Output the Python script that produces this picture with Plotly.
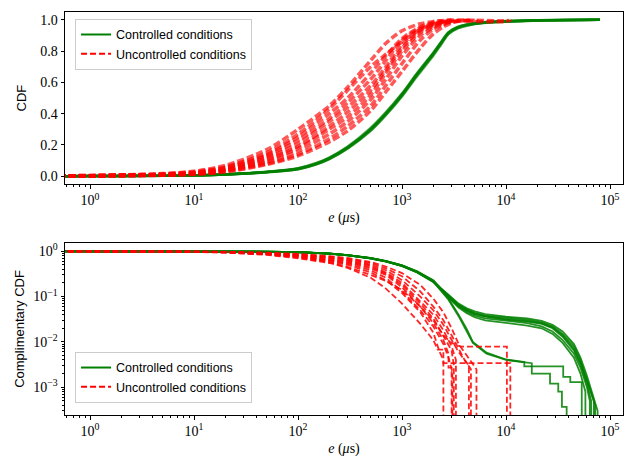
import plotly.graph_objects as go
from plotly.subplots import make_subplots

# ---------------- data ----------------
# Controlled conditions: CDF body on a shared x grid (microseconds)
green_body_x = [0.5, 1, 2, 5, 10, 20, 50, 100, 150, 200, 300, 500, 700, 1000, 1400, 2000]
green_body_cdf = [
    [0.0005, 0.001, 0.002, 0.004, 0.007, 0.013, 0.029, 0.052, 0.085, 0.120, 0.190, 0.310, 0.410, 0.530, 0.660, 0.790],
    [0.0005, 0.001, 0.002, 0.004, 0.006, 0.012, 0.028, 0.050, 0.083, 0.118, 0.187, 0.305, 0.405, 0.525, 0.655, 0.785],
    [0.0004, 0.001, 0.002, 0.004, 0.006, 0.012, 0.027, 0.048, 0.080, 0.115, 0.183, 0.300, 0.400, 0.520, 0.650, 0.780],
    [0.0004, 0.001, 0.002, 0.003, 0.006, 0.011, 0.026, 0.046, 0.078, 0.112, 0.180, 0.295, 0.395, 0.515, 0.645, 0.775],
    [0.0004, 0.001, 0.002, 0.003, 0.005, 0.011, 0.025, 0.045, 0.076, 0.110, 0.177, 0.290, 0.390, 0.510, 0.640, 0.770],
    [0.0005, 0.001, 0.002, 0.004, 0.006, 0.012, 0.028, 0.049, 0.081, 0.117, 0.186, 0.302, 0.402, 0.522, 0.652, 0.782],
    [0.0005, 0.001, 0.002, 0.004, 0.006, 0.012, 0.027, 0.047, 0.079, 0.113, 0.182, 0.300, 0.400, 0.525, 0.660, 0.790],
    [0.0004, 0.001, 0.002, 0.003, 0.005, 0.011, 0.026, 0.045, 0.077, 0.110, 0.178, 0.292, 0.392, 0.515, 0.650, 0.785],
]
# Controlled conditions: end of the CDF as drawn in the top panel
green_top_tail_x = [2400, 2800, 3400, 4200, 6000, 18000, 80000]
green_top_tail_cdf = [
    [0.862, 0.920, 0.952, 0.969, 0.983, 0.996, 1.0],
    [0.858, 0.917, 0.950, 0.968, 0.982, 0.995, 1.0],
    [0.854, 0.914, 0.948, 0.966, 0.981, 0.995, 1.0],
    [0.850, 0.911, 0.946, 0.964, 0.980, 0.994, 1.0],
    [0.846, 0.908, 0.944, 0.962, 0.979, 0.994, 1.0],
    [0.856, 0.916, 0.949, 0.967, 0.982, 0.995, 1.0],
    [0.862, 0.921, 0.954, 0.971, 0.985, 0.997, 1.0],
    [0.858, 0.918, 0.952, 0.970, 0.984, 0.997, 1.0],
]
# Controlled conditions: tails as drawn in the bottom panel (complementary CDF)
green_tail_x = [
    [2800, 3500, 4200, 5000, 6300, 10000, 16000, 22000, 28000, 35000, 45000, 52000, 60000, 68000, 76000, 76000],
    [2800, 3500, 4200, 5000, 6300, 10000, 16000, 22000, 28000, 35000, 45000, 52000, 60000, 66000, 72000, 72000],
    [2800, 3500, 4200, 5000, 6300, 10000, 16000, 22000, 28000, 35000, 45000, 52000, 60000, 66000, 66000],
    [2800, 3500, 4200, 5000, 6300, 10000, 16000, 22000, 28000, 35000, 45000, 52000, 60000, 64000, 64000],
    [2800, 3500, 4200, 5000, 6300, 10000, 16000, 22000, 28000, 35000, 45000, 52000, 58000, 58000],
    [2800, 3500, 4200, 5000, 6300, 10000, 16000, 22000, 28000, 35000, 45000, 52000, 60000, 70000, 70000],
    [2800, 3500, 4200, 4800, 6500, 10000, 15000, 15000, 35500, 35500, 41500, 41500, 53500, 53500],
    [2800, 3500, 4200, 4800, 6500, 10000, 17700, 17700, 26500, 26500, 31800, 31800, 34500, 34500, 38300, 38300],
]
green_tail_ccdf = [
    [0.110, 0.070, 0.055, 0.047, 0.041, 0.036, 0.033, 0.029, 0.024, 0.017, 0.009, 0.0045, 0.0018, 0.0007, 0.0003, 0],
    [0.105, 0.066, 0.052, 0.044, 0.038, 0.034, 0.031, 0.027, 0.022, 0.015, 0.008, 0.004, 0.0015, 0.0008, 0.0004, 0],
    [0.100, 0.063, 0.049, 0.041, 0.036, 0.031, 0.028, 0.025, 0.020, 0.013, 0.0065, 0.0032, 0.0012, 0.0005, 0],
    [0.100, 0.060, 0.046, 0.038, 0.033, 0.029, 0.026, 0.022, 0.017, 0.011, 0.0055, 0.0027, 0.001, 0.0005, 0],
    [0.095, 0.057, 0.043, 0.035, 0.030, 0.026, 0.023, 0.020, 0.015, 0.0095, 0.0045, 0.002, 0.0008, 0],
    [0.102, 0.064, 0.050, 0.042, 0.037, 0.032, 0.029, 0.026, 0.021, 0.014, 0.007, 0.0035, 0.0014, 0.0005, 0],
    [0.090, 0.040, 0.019, 0.010, 0.0058, 0.0041, 0.0036, 0.0029, 0.0029, 0.0017, 0.0017, 0.0013, 0.0013, 0],
    [0.085, 0.037, 0.017, 0.0095, 0.0055, 0.004, 0.0034, 0.002, 0.002, 0.0012, 0.0012, 0.0008, 0.0008, 0.00037, 0.00037, 0],
]

# Uncontrolled conditions: CDF body on a shared x grid (microseconds)
red_body_x = [0.5, 1, 2, 5, 10, 20, 50, 100, 200, 300, 500, 700, 1000, 1500]
red_body_cdf = [
    [0.003, 0.005, 0.009, 0.017, 0.032, 0.070, 0.170, 0.300, 0.450, 0.570, 0.740, 0.850, 0.930, 0.975],
    [0.003, 0.005, 0.008, 0.015, 0.028, 0.060, 0.150, 0.270, 0.430, 0.550, 0.700, 0.780, 0.860, 0.940],
    [0.002, 0.004, 0.007, 0.013, 0.025, 0.055, 0.140, 0.250, 0.400, 0.500, 0.660, 0.770, 0.880, 0.955],
    [0.002, 0.004, 0.007, 0.012, 0.022, 0.050, 0.130, 0.230, 0.370, 0.470, 0.620, 0.740, 0.870, 0.950],
    [0.002, 0.003, 0.006, 0.011, 0.020, 0.045, 0.120, 0.210, 0.350, 0.440, 0.580, 0.700, 0.840, 0.940],
    [0.002, 0.003, 0.005, 0.010, 0.018, 0.040, 0.110, 0.190, 0.320, 0.410, 0.550, 0.680, 0.820, 0.930],
    [0.001, 0.003, 0.005, 0.009, 0.017, 0.038, 0.100, 0.180, 0.300, 0.380, 0.520, 0.660, 0.800, 0.920],
    [0.001, 0.002, 0.004, 0.008, 0.015, 0.035, 0.090, 0.160, 0.270, 0.350, 0.490, 0.620, 0.770, 0.900],
    [0.001, 0.002, 0.004, 0.007, 0.013, 0.030, 0.080, 0.140, 0.240, 0.320, 0.450, 0.580, 0.720, 0.870],
    [0.001, 0.002, 0.003, 0.006, 0.012, 0.028, 0.075, 0.130, 0.220, 0.290, 0.420, 0.540, 0.670, 0.820],
]
# Uncontrolled conditions: tails as complementary CDF
red_tail_x = [
    [2000, 2200, 2500, 2500, 11000, 11000],
    [2000, 2500, 2800, 2800, 3000, 3000],
    [2000, 2300, 2500, 2500],
    [2000, 2500, 2800, 3050, 3050],
    [2000, 2500, 3000, 3700, 10200, 10200],
    [2000, 2500, 3000, 3150, 3150],
    [2000, 2500, 3000, 3300, 3300],
    [2000, 2500, 3000, 3500, 4400, 4400],
    [2000, 2500, 3000, 3500, 4000, 4600, 4600],
    [2000, 2500, 3000, 3500, 4200, 5200, 5200],
]
red_tail_ccdf = [
    [0.011, 0.0068, 0.0068, 0.0034, 0.0034, 0],
    [0.026, 0.011, 0.0055, 0.0027, 0.0027, 0],
    [0.016, 0.006, 0.004, 0],
    [0.022, 0.009, 0.0045, 0.0022, 0],
    [0.030, 0.014, 0.0095, 0.0079, 0.0079, 0],
    [0.033, 0.014, 0.0065, 0.003, 0],
    [0.040, 0.018, 0.008, 0.004, 0],
    [0.050, 0.024, 0.011, 0.006, 0.003, 0],
    [0.060, 0.030, 0.014, 0.007, 0.004, 0.0025, 0],
    [0.090, 0.045, 0.020, 0.009, 0.005, 0.0025, 0],
]

x_tick_vals = [1, 10, 100, 1000, 10000, 100000]
x_tick_text = ["10<sup>0</sup>", "10<sup>1</sup>", "10<sup>2</sup>", "10<sup>3</sup>", "10<sup>4</sup>", "10<sup>5</sup>"]
cdf_tick_vals = [0.0, 0.2, 0.4, 0.6, 0.8, 1.0]
cdf_tick_text = ["0.0", "0.2", "0.4", "0.6", "0.8", "1.0"]
ccdf_tick_vals = [0.001, 0.01, 0.1, 1]
ccdf_tick_text = ["10<sup>\u22123</sup>", "10<sup>\u22122</sup>", "10<sup>\u22121</sup>", "10<sup>0</sup>"]

GREEN = "#008000"
RED = "#ff0000"
LOG_FLOOR = 1e-6  # matplotlib clips non-positive values on log axes to the bottom edge

# ---------------- figure ----------------
fig = make_subplots(rows=2, cols=1, vertical_spacing=0.146)

n_green = len(green_body_cdf)
n_red = len(red_body_cdf)

# top: CDF
for i in range(n_green):
    xs = green_body_x + green_top_tail_x
    ys = green_body_cdf[i] + green_top_tail_cdf[i]
    fig.add_trace(go.Scatter(x=xs, y=ys, mode="lines", showlegend=False,
                             line=dict(color=GREEN, width=2.5, shape="spline", smoothing=0.8),
                             opacity=0.5, hoverinfo="skip"), row=1, col=1)
for i in range(n_red):
    xs = red_body_x + red_tail_x[i]
    ys = red_body_cdf[i] + [1 - c for c in red_tail_ccdf[i]]
    fig.add_trace(go.Scatter(x=xs, y=ys, mode="lines", showlegend=False,
                             line=dict(color=RED, width=3.5, dash="7px,3px", shape="spline", smoothing=0.8),
                             opacity=0.65, hoverinfo="skip"), row=1, col=1)

# bottom: complementary CDF
for i in range(n_green):
    xs = green_body_x + green_tail_x[i]
    ys = [1 - c for c in green_body_cdf[i]] + green_tail_ccdf[i]
    fig.add_trace(go.Scatter(x=xs, y=[max(v, LOG_FLOOR) for v in ys], mode="lines",
                             showlegend=False, line=dict(color=GREEN, width=1.8),
                             opacity=0.85, hoverinfo="skip"), row=2, col=1)
for i in range(n_red):
    xs = red_body_x + red_tail_x[i]
    ys = [1 - c for c in red_body_cdf[i]] + red_tail_ccdf[i]
    fig.add_trace(go.Scatter(x=xs, y=[max(v, LOG_FLOOR) for v in ys], mode="lines",
                             showlegend=False, line=dict(color=RED, width=1.8, dash="6px,3px"),
                             opacity=0.85, hoverinfo="skip"), row=2, col=1)

# legend entries (one per subplot legend)
for leg, r in (("legend", 1), ("legend2", 2)):
    fig.add_trace(go.Scatter(x=[None], y=[None], mode="lines", name="Controlled conditions",
                             line=dict(color=GREEN, width=2), legend=leg), row=r, col=1)
    fig.add_trace(go.Scatter(x=[None], y=[None], mode="lines", name="Uncontrolled conditions",
                             line=dict(color=RED, width=2, dash="6px,3px"), legend=leg), row=r, col=1)

minor_x = [k * 10 ** e for e in range(-1, 6) for k in range(2, 10)]
minor_y = [k * 10 ** e for e in range(-4, 1) for k in range(2, 10)]

SERIF = "Liberation Serif"
SANS = "Liberation Sans"
tickfont = dict(family=SERIF, size=14, color="black")

axis_common = dict(showline=True, mirror=True, linecolor="black", linewidth=1,
                   ticks="outside", ticklen=3.5, tickwidth=0.8, tickcolor="black",
                   showgrid=False, zeroline=False, tickfont=tickfont)

for r in (1, 2):
    fig.update_xaxes(type="log", range=[-0.2404, 5.125], tickvals=x_tick_vals, ticktext=x_tick_text,
                     minor=dict(tickvals=minor_x, ticks="outside", ticklen=2, tickwidth=0.6,
                                tickcolor="black", showgrid=False),
                     title=dict(text="<i>e</i> (<i>\u03bc</i>s)", font=dict(family=SERIF, size=14, color="black"),
                                standoff=4),
                     row=r, col=1, **axis_common)

fig.update_yaxes(range=[-0.05, 1.05], tickvals=cdf_tick_vals, ticktext=cdf_tick_text,
                 title=dict(text="CDF", font=dict(family=SANS, size=13, color="black"), standoff=10),
                 row=1, col=1, **axis_common)
fig.update_yaxes(type="log", range=[-3.611, 0.183], tickvals=ccdf_tick_vals, ticktext=ccdf_tick_text,
                 minor=dict(tickvals=minor_y, ticks="outside", ticklen=2, tickwidth=0.6,
                            tickcolor="black", showgrid=False),
                 title=dict(text="Complimentary CDF", font=dict(family=SANS, size=13, color="black"), standoff=5),
                 row=2, col=1, **axis_common)

legend_style = dict(bgcolor="rgba(255,255,255,0.8)", bordercolor="#cccccc", borderwidth=1,
                    font=dict(family=SANS, size=12.5, color="black"),
                    xanchor="left", itemwidth=30, tracegroupgap=0)

fig.update_layout(
    width=624, height=458,
    margin=dict(l=65, r=1, t=12, b=43),
    paper_bgcolor="white", plot_bgcolor="white",
    legend=dict(x=0.018, y=0.983, yanchor="top", **legend_style),
    legend2=dict(x=0.018, y=0.03, yanchor="bottom", **legend_style),
)
fig.update_yaxes(domain=[0.573, 1.0], row=1, col=1)
fig.update_yaxes(domain=[0.0, 0.427], row=2, col=1)

fig.write_html("out.html", config={"displayModeBar": False},
               post_script="document.body.style.margin='0px';")
